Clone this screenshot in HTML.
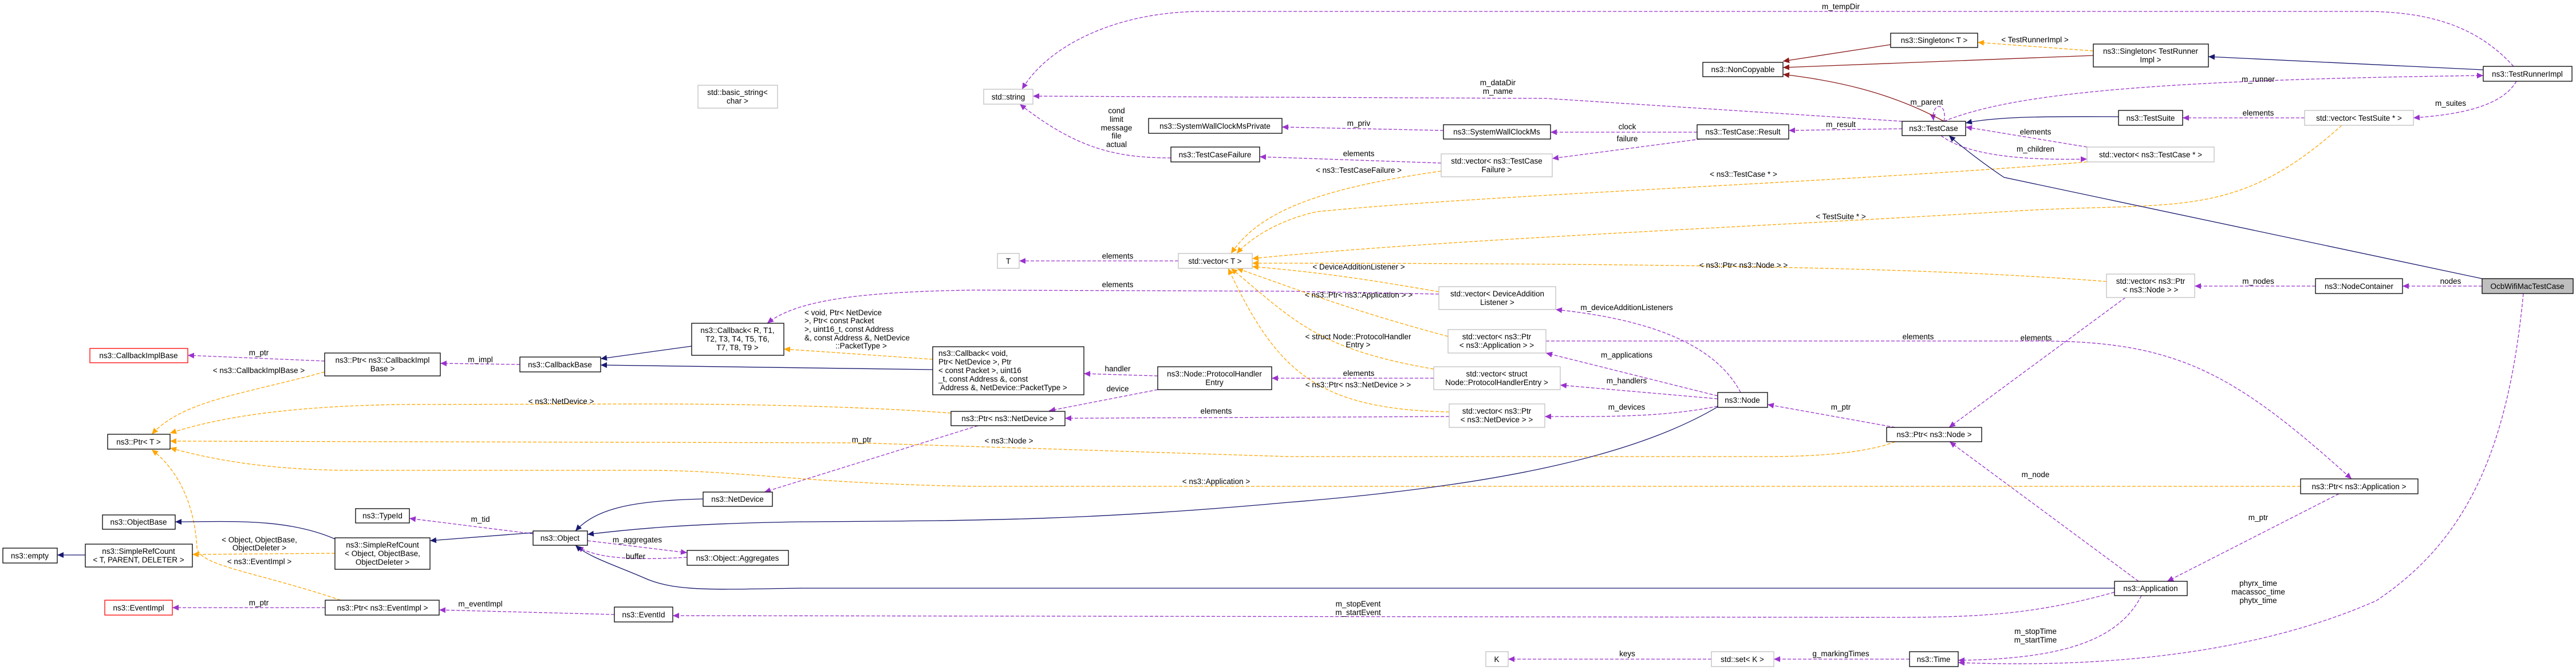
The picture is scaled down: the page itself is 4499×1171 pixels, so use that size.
<!DOCTYPE html>
<html><head><meta charset="utf-8"><style>
html,body{margin:0;padding:0;background:#fff;}
svg{display:block;}
text{font-family:"Liberation Sans",sans-serif;font-size:13.5px;fill:#000;}
.b{fill:#fff;stroke:#000;stroke-width:1.3;}
.g{fill:#fff;stroke:#bfbfbf;stroke-width:1.3;}
.r{fill:#fff;stroke:#ff0000;stroke-width:1.3;}
.p{fill:none;stroke:#9a32cd;stroke-width:1.3;stroke-dasharray:6,3;marker-end:url(#mp);}
.o{fill:none;stroke:#ffa500;stroke-width:1.3;stroke-dasharray:6,3;marker-end:url(#mo);}
.n{fill:none;stroke:#191970;stroke-width:1.3;marker-end:url(#mn);}
.d{fill:none;stroke:#8b1a1a;stroke-width:1.3;marker-end:url(#md);}
</style></head><body>
<svg width="4499" height="1171" viewBox="0 0 4499 1171" xmlns="http://www.w3.org/2000/svg">
<defs>
<marker id="mp" markerUnits="userSpaceOnUse" markerWidth="12" markerHeight="10" refX="11" refY="5" orient="auto"><path d="M0,0 L11,5 L0,10 z" fill="#9a32cd"/></marker>
<marker id="mo" markerUnits="userSpaceOnUse" markerWidth="12" markerHeight="10" refX="11" refY="5" orient="auto"><path d="M0,0 L11,5 L0,10 z" fill="#ffa500"/></marker>
<marker id="mn" markerUnits="userSpaceOnUse" markerWidth="12" markerHeight="10" refX="11" refY="5" orient="auto"><path d="M0,0 L11,5 L0,10 z" fill="#191970"/></marker>
<marker id="md" markerUnits="userSpaceOnUse" markerWidth="12" markerHeight="10" refX="11" refY="5" orient="auto"><path d="M0,0 L11,5 L0,10 z" fill="#8b1a1a"/></marker>
</defs>

<!-- EDGES: purple -->
<path class="p" d="M567,631 L328,621"/>
<path class="p" d="M908,637 L769,635"/>
<path class="p" d="M568,1062 L301,1062"/>
<path class="p" d="M1073,1074 L767,1066"/>
<path class="p" d="M931,933 L715,906"/>
<path class="p" d="M1026,945 L1200,966"/>
<path class="p" d="M1200,974 C1100,980 1040,975 1008,955"/>
<path class="p" d="M3693,1035 C3550,1075 3450,1079 3300,1079 L1175,1076"/>
<path class="p" d="M2058,456 L1780,456"/>
<path class="p" d="M2513,514 L2250,509 L1700,507 C1500,510 1390,525 1340,565"/>
<path class="p" d="M2531,728 L1860,731"/>
<path class="p" d="M2022,681 L1832,718"/>
<path class="p" d="M2022,657 L1893,653"/>
<path class="p" d="M1708,744 L1335,860"/>
<path class="p" d="M2504,661 L2221,661"/>
<path class="p" d="M3000,692 L2700,617"/>
<path class="p" d="M3000,697 L2725,673"/>
<path class="p" d="M3000,710 C2900,730 2800,728 2698,728"/>
<path class="p" d="M3040,686 C3000,610 2900,560 2717,541"/>
<path class="p" d="M3310,747 L3087,707"/>
<path class="p" d="M3712,520 L3404,747"/>
<path class="p" d="M2700,596 L3560,596 C3800,596 3900,650 4107,837"/>
<path class="p" d="M4085,863 L3785,1016"/>
<path class="p" d="M3735,1016 L3405,772"/>
<path class="p" d="M3740,1041 C3700,1120 3600,1152 3420,1154"/>
<path class="p" d="M4407,513 C4380,800 4300,950 4150,1050 C3900,1160 3600,1165 3420,1158"/>
<path class="p" d="M4335,500 L4196,500"/>
<path class="p" d="M4044,500 L3833,500"/>
<path class="p" d="M3335,1152 L3098,1152"/>
<path class="p" d="M2989,1152 L2634,1152"/>
<path class="p" d="M4390,116 C4330,50 4250,20 4130,20 L2100,20 C1950,20 1830,80 1785,156"/>
<path class="p" d="M3322,212 L2700,172 L1804,168"/>
<path class="p" d="M2045,276 C1950,276 1880,260 1781,182"/>
<path class="p" d="M2521,228 L2239,222"/>
<path class="p" d="M2964,231 L2708,231"/>
<path class="p" d="M2970,243 L2711,277"/>
<path class="p" d="M2517,285 L2200,274"/>
<path class="p" d="M3322,225 L3124,228"/>
<path class="p" d="M3395,212 C3400,190 3388,180 3380,190 C3376,195 3376,202 3377,211"/>
<path class="p" d="M3395,212 C3500,170 3700,140 4337,132"/>
<path class="p" d="M4395,142 C4370,185 4300,200 4215,206"/>
<path class="p" d="M4025,206 L3812,206"/>
<path class="p" d="M3645,257 L3433,222"/>
<path class="p" d="M3390,237 C3440,275 3550,280 3645,278"/>

<!-- EDGES: orange -->
<path class="o" d="M567,650 C420,690 320,700 265,759"/>
<path class="o" d="M1661,722 C1500,710 1300,706 1125,706 L700,707 C500,710 380,730 297,757"/>
<path class="o" d="M3310,772 C3250,795 3150,798 3080,798 L2250,798 L1500,774 L297,771"/>
<path class="o" d="M4018,850 L1700,850 C1400,845 1300,822 1125,822 L600,822 C450,820 360,800 297,783"/>
<path class="o" d="M595,1049 C450,1000 350,990 344,958 C340,880 310,820 265,786"/>
<path class="o" d="M585,967 L336,969"/>
<path class="o" d="M1629,628 L1369,610"/>
<path class="o" d="M2517,299 C2300,330 2200,370 2150,443"/>
<path class="o" d="M3645,283 C3200,320 2600,340 2300,370 C2230,385 2180,420 2160,443"/>
<path class="o" d="M4090,219 C3900,390 3800,350 3500,370 C3000,400 2500,420 2187,452"/>
<path class="o" d="M3679,492 C3400,470 3000,460 2187,460"/>
<path class="o" d="M2513,510 C2400,490 2300,475 2187,466"/>
<path class="o" d="M2529,588 C2350,540 2250,500 2160,469"/>
<path class="o" d="M2504,645 C2300,610 2260,560 2150,469"/>
<path class="o" d="M2531,720 C2300,715 2230,650 2145,469"/>
<path class="o" d="M3656,89 L3454,74"/>

<!-- EDGES: navy -->
<path class="n" d="M149,970 L100,970"/>
<path class="n" d="M585,942 C500,905 400,912 306,912"/>
<path class="n" d="M931,931 L751,945"/>
<path class="n" d="M1228,872 C1100,875 1040,890 1005,928"/>
<path class="n" d="M3000,711 C2850,800 2600,850 2250,878 C1900,910 1700,910 1400,912 C1200,915 1100,925 1026,934"/>
<path class="n" d="M3693,1028 L1400,1028 C1250,1030 1180,1035 1125,1010 C1080,990 1030,975 1005,953"/>
<path class="n" d="M1208,605 L1049,627"/>
<path class="n" d="M1629,646 L1049,638"/>
<path class="n" d="M3700,204 C3550,203 3480,205 3433,215"/>
<path class="n" d="M4335,487 L3500,310 C3470,290 3430,260 3404,237"/>
<path class="n" d="M4337,122 L3857,99"/>

<!-- EDGES: dark red -->
<path class="d" d="M3302,78 L3114,107"/>
<path class="d" d="M3656,97 L3114,118"/>
<path class="d" d="M3395,212 C3300,160 3200,140 3114,130"/>

<!-- NODES -->
<rect class="r" x="157" y="609" width="171" height="25"/><text x="242" y="626" text-anchor="middle">ns3::CallbackImplBase</text>
<rect class="b" x="567" y="617" width="202" height="40"/><text x="668" y="634" text-anchor="middle">ns3::Ptr&lt; ns3::CallbackImpl</text><text x="668" y="649" text-anchor="middle">Base &gt;</text>
<rect class="b" x="908" y="624" width="141" height="26"/><text x="978" y="642" text-anchor="middle">ns3::CallbackBase</text>
<rect class="b" x="188" y="759" width="109" height="26"/><text x="242" y="777" text-anchor="middle">ns3::Ptr&lt; T &gt;</text>
<rect class="b" x="179" y="900" width="127" height="25"/><text x="242" y="917" text-anchor="middle">ns3::ObjectBase</text>
<rect class="b" x="621" y="889" width="94" height="25"/><text x="668" y="906" text-anchor="middle">ns3::TypeId</text>
<rect class="b" x="931" y="928" width="95" height="25"/><text x="978" y="945" text-anchor="middle">ns3::Object</text>
<rect class="b" x="5" y="958" width="95" height="26"/><text x="52" y="976" text-anchor="middle">ns3::empty</text>
<rect class="b" x="149" y="951" width="187" height="40"/><text x="242" y="968" text-anchor="middle">ns3::SimpleRefCount</text><text x="242" y="983" text-anchor="middle">&lt; T, PARENT, DELETER &gt;</text>
<rect class="b" x="585" y="940" width="166" height="55"/><text x="668" y="957" text-anchor="middle">ns3::SimpleRefCount</text><text x="668" y="972" text-anchor="middle">&lt; Object, ObjectBase,</text><text x="668" y="987" text-anchor="middle">ObjectDeleter &gt;</text>
<rect class="r" x="183" y="1049" width="118" height="26"/><text x="242" y="1067" text-anchor="middle">ns3::EventImpl</text>
<rect class="b" x="568" y="1049" width="199" height="26"/><text x="668" y="1067" text-anchor="middle">ns3::Ptr&lt; ns3::EventImpl &gt;</text>
<rect class="b" x="1073" y="1061" width="102" height="26"/><text x="1124" y="1079" text-anchor="middle">ns3::EventId</text>
<rect class="g" x="1219" y="149" width="139" height="40"/><text x="1288" y="166" text-anchor="middle">std::basic_string&lt;</text><text x="1288" y="181" text-anchor="middle">char &gt;</text>
<rect class="g" x="1718" y="156" width="86" height="26"/><text x="1761" y="174" text-anchor="middle">std::string</text>
<rect class="b" x="2006" y="207" width="233" height="26"/><text x="2122" y="225" text-anchor="middle">ns3::SystemWallClockMsPrivate</text>
<rect class="b" x="2045" y="257" width="155" height="26"/><text x="2122" y="275" text-anchor="middle">ns3::TestCaseFailure</text>
<rect class="g" x="1742" y="443" width="38" height="26"/><text x="1761" y="461" text-anchor="middle">T</text>
<rect class="g" x="2058" y="443" width="129" height="26"/><text x="2122" y="461" text-anchor="middle">std::vector&lt; T &gt;</text>
<rect class="b" x="1208" y="565" width="161" height="56"/><text x="1288" y="582" text-anchor="middle">ns3::Callback&lt; R, T1,</text><text x="1288" y="597" text-anchor="middle">T2, T3, T4, T5, T6,</text><text x="1288" y="612" text-anchor="middle">T7, T8, T9 &gt;</text>
<rect class="b" x="1629" y="606" width="264" height="84"/><text x="1639" y="622">ns3::Callback&lt; void,</text><text x="1639" y="637"> Ptr&lt; NetDevice &gt;, Ptr</text><text x="1639" y="652">&lt; const Packet &gt;, uint16</text><text x="1639" y="667">_t, const Address &amp;, const</text><text x="1642" y="682">Address &amp;, NetDevice::PacketType &gt;</text>
<rect class="b" x="2022" y="641" width="199" height="40"/><text x="2121" y="658" text-anchor="middle">ns3::Node::ProtocolHandler</text><text x="2121" y="673" text-anchor="middle">Entry</text>
<rect class="b" x="1661" y="719" width="199" height="25"/><text x="1760" y="736" text-anchor="middle">ns3::Ptr&lt; ns3::NetDevice &gt;</text>
<rect class="b" x="1228" y="860" width="121" height="25"/><text x="1288" y="877" text-anchor="middle">ns3::NetDevice</text>
<rect class="b" x="1200" y="962" width="177" height="26"/><text x="1288" y="980" text-anchor="middle">ns3::Object::Aggregates</text>
<rect class="b" x="3302" y="58" width="152" height="25"/><text x="3378" y="75" text-anchor="middle">ns3::Singleton&lt; T &gt;</text>
<rect class="b" x="2974" y="109" width="140" height="25"/><text x="3044" y="126" text-anchor="middle">ns3::NonCopyable</text>
<rect class="b" x="3322" y="212" width="111" height="25"/><text x="3377" y="229" text-anchor="middle">ns3::TestCase</text>
<rect class="b" x="2521" y="218" width="187" height="25"/><text x="2614" y="235" text-anchor="middle">ns3::SystemWallClockMs</text>
<rect class="b" x="2964" y="218" width="160" height="25"/><text x="3044" y="235" text-anchor="middle">ns3::TestCase::Result</text>
<rect class="g" x="2517" y="269" width="194" height="40"/><text x="2614" y="286" text-anchor="middle">std::vector&lt; ns3::TestCase</text><text x="2614" y="301" text-anchor="middle">Failure &gt;</text>
<rect class="g" x="2513" y="501" width="204" height="40"/><text x="2615" y="518" text-anchor="middle">std::vector&lt; DeviceAddition</text><text x="2615" y="533" text-anchor="middle">Listener &gt;</text>
<rect class="g" x="2529" y="576" width="171" height="41"/><text x="2614" y="593" text-anchor="middle">std::vector&lt; ns3::Ptr</text><text x="2614" y="608" text-anchor="middle">&lt; ns3::Application &gt; &gt;</text>
<rect class="g" x="2504" y="641" width="221" height="40"/><text x="2614" y="658" text-anchor="middle">std::vector&lt; struct</text><text x="2614" y="673" text-anchor="middle">Node::ProtocolHandlerEntry &gt;</text>
<rect class="g" x="2531" y="706" width="167" height="41"/><text x="2614" y="723" text-anchor="middle">std::vector&lt; ns3::Ptr</text><text x="2614" y="738" text-anchor="middle">&lt; ns3::NetDevice &gt; &gt;</text>
<rect class="b" x="3000" y="686" width="87" height="26"/><text x="3043" y="704" text-anchor="middle">ns3::Node</text>
<rect class="b" x="3295" y="747" width="166" height="25"/><text x="3378" y="764" text-anchor="middle">ns3::Ptr&lt; ns3::Node &gt;</text>
<rect class="g" x="2595" y="1139" width="39" height="26"/><text x="2614" y="1157" text-anchor="middle">K</text>
<rect class="g" x="2989" y="1139" width="109" height="26"/><text x="3043" y="1157" text-anchor="middle">std::set&lt; K &gt;</text>
<rect class="b" x="3335" y="1139" width="85" height="26"/><text x="3377" y="1157" text-anchor="middle">ns3::Time</text>
<rect class="b" x="3656" y="77" width="201" height="40"/><text x="3756" y="94" text-anchor="middle">ns3::Singleton&lt; TestRunner</text><text x="3756" y="109" text-anchor="middle">Impl &gt;</text>
<rect class="b" x="4337" y="116" width="155" height="26"/><text x="4414" y="134" text-anchor="middle">ns3::TestRunnerImpl</text>
<rect class="b" x="3700" y="193" width="112" height="26"/><text x="3756" y="211" text-anchor="middle">ns3::TestSuite</text>
<rect class="g" x="4025" y="193" width="190" height="26"/><text x="4120" y="211" text-anchor="middle">std::vector&lt; TestSuite * &gt;</text>
<rect class="g" x="3645" y="257" width="222" height="26"/><text x="3756" y="275" text-anchor="middle">std::vector&lt; ns3::TestCase * &gt;</text>
<rect class="g" x="3679" y="479" width="154" height="41"/><text x="3756" y="496" text-anchor="middle">std::vector&lt; ns3::Ptr</text><text x="3756" y="511" text-anchor="middle">&lt; ns3::Node &gt; &gt;</text>
<rect class="b" x="4044" y="487" width="152" height="26"/><text x="4120" y="505" text-anchor="middle">ns3::NodeContainer</text>
<rect x="4335" y="487" width="159" height="26" fill="#bfbfbf" stroke="#000" stroke-width="1.3"/><text x="4414" y="505" text-anchor="middle">OcbWifiMacTestCase</text>
<rect class="b" x="4018" y="837" width="205" height="26"/><text x="4120" y="855" text-anchor="middle">ns3::Ptr&lt; ns3::Application &gt;</text>
<rect class="b" x="3693" y="1016" width="127" height="25"/><text x="3756" y="1033" text-anchor="middle">ns3::Application</text>

<!-- EDGE LABELS -->
<g text-anchor="middle">
<text x="452" y="621">m_ptr</text>
<text x="452" y="652">&lt; ns3::CallbackImplBase &gt;</text>
<text x="980" y="706">&lt; ns3::NetDevice &gt;</text>
<text x="839" y="633">m_impl</text>
<text x="839" y="912">m_tid</text>
<text x="453" y="948">&lt; Object, ObjectBase,</text>
<text x="453" y="962">ObjectDeleter &gt;</text>
<text x="453" y="986">&lt; ns3::EventImpl &gt;</text>
<text x="452" y="1058">m_ptr</text>
<text x="839" y="1060">m_eventImpl</text>
<text x="1113" y="948">m_aggregates</text>
<text x="1110" y="977">buffer</text>
<text x="1950" y="198">cond</text>
<text x="1950" y="213">limit</text>
<text x="1950" y="228">message</text>
<text x="1950" y="242">file</text>
<text x="1950" y="257">actual</text>
<text x="1952" y="452">elements</text>
<text x="1952" y="502">elements</text>
<text x="1504" y="609">::PacketType &gt;</text>
<text x="1952" y="649">handler</text>
<text x="1952" y="684">device</text>
<text x="2124" y="723">elements</text>
<text x="1505" y="773">m_ptr</text>
<text x="1762" y="775">&lt; ns3::Node &gt;</text>
<text x="2124" y="846">&lt; ns3::Application &gt;</text>
<text x="3215" y="16">m_tempDir</text>
<text x="2616" y="149">m_dataDir</text>
<text x="2616" y="164">m_name</text>
<text x="3365" y="183">m_parent</text>
<text x="2373" y="220">m_priv</text>
<text x="2842" y="226">clock</text>
<text x="2842" y="247">failure</text>
<text x="3215" y="222">m_result</text>
<text x="2373" y="273">elements</text>
<text x="2373" y="302">&lt; ns3::TestCaseFailure &gt;</text>
<text x="3045" y="309">&lt; ns3::TestCase * &gt;</text>
<text x="3215" y="383">&lt; TestSuite * &gt;</text>
<text x="2373" y="471">&lt; DeviceAdditionListener &gt;</text>
<text x="3045" y="468">&lt; ns3::Ptr&lt; ns3::Node &gt; &gt;</text>
<text x="2373" y="520">&lt; ns3::Ptr&lt; ns3::Application &gt; &gt;</text>
<text x="2841" y="542">m_deviceAdditionListeners</text>
<text x="2372" y="593">&lt; struct Node::ProtocolHandler</text>
<text x="2372" y="607">Entry &gt;</text>
<text x="2373" y="657">elements</text>
<text x="2372" y="677">&lt; ns3::Ptr&lt; ns3::NetDevice &gt; &gt;</text>
<text x="2841" y="625">m_applications</text>
<text x="2841" y="670">m_handlers</text>
<text x="2841" y="716">m_devices</text>
<text x="3215" y="716">m_ptr</text>
<text x="2372" y="1060">m_stopEvent</text>
<text x="2372" y="1075">m_startEvent</text>
<text x="2842" y="1147">keys</text>
<text x="3215" y="1147">g_markingTimes</text>
<text x="3350" y="593">elements</text>
<text x="3556" y="595">elements</text>
<text x="3554" y="74">&lt; TestRunnerImpl &gt;</text>
<text x="3944" y="143">m_runner</text>
<text x="4280" y="185">m_suites</text>
<text x="3944" y="202">elements</text>
<text x="3555" y="235">elements</text>
<text x="3555" y="265">m_children</text>
<text x="3944" y="496">m_nodes</text>
<text x="4280" y="496">nodes</text>
<text x="3555" y="834">m_node</text>
<text x="3944" y="909">m_ptr</text>
<text x="3944" y="1024">phyrx_time</text>
<text x="3944" y="1039">macassoc_time</text>
<text x="3944" y="1054">phytx_time</text>
<text x="3555" y="1108">m_stopTime</text>
<text x="3555" y="1123">m_startTime</text>
</g>
<text x="1405" y="551">&lt; void, Ptr&lt; NetDevice</text>
<text x="1405" y="565">&gt;, Ptr&lt; const Packet</text>
<text x="1405" y="580">&gt;, uint16_t, const Address</text>
<text x="1405" y="595">&amp;, const Address &amp;, NetDevice</text>
</svg>
</body></html>
